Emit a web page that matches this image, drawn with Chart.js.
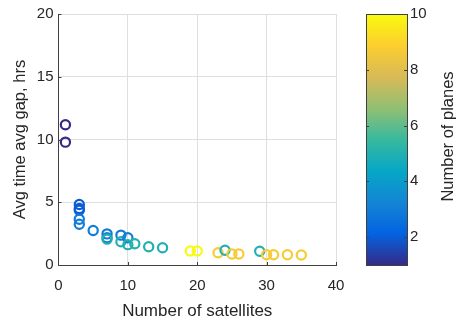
<!DOCTYPE html>
<html><head><meta charset="utf-8">
<script src="https://cdn.jsdelivr.net/npm/chart.js@4"></script>
<style>html,body{margin:0;padding:0;background:#fff;}#wrap{width:458px;height:321px;}</style>
</head><body><div id="wrap"><canvas id="c" width="458" height="321"></canvas></div>
<script>
// ---- data ----
const satellites = [1, 1, 3, 3, 3, 3, 3, 5, 7, 7, 7, 9, 9, 10, 10, 11, 13, 15, 19, 20, 23, 24, 25, 26, 29, 30, 31, 33, 35];
const gapHours   = [11.17, 9.79, 4.82, 4.5, 4.37, 3.65, 3.25, 2.75, 2.48, 2.17, 2.06, 2.38, 1.85, 2.17, 1.62, 1.69, 1.45, 1.37, 1.11, 1.11, 0.98, 1.17, 0.88, 0.88, 1.1, 0.82, 0.82, 0.82, 0.8];
const planes     = [1, 1, 2, 2, 2, 3, 3, 3, 3, 3, 5, 3, 5, 3, 5, 5, 5, 5, 10, 10, 8.7, 5, 8.7, 8.7, 5, 8.7, 8.7, 8.7, 8.7];
const xTicks = [0, 10, 20, 30, 40];
const yTicks = [0, 5, 10, 15, 20];
const cbTicks = [2, 4, 6, 8, 10];
const cbRange = [1, 10];
const xTitle = 'Number of satellites';
const yTitle = 'Avg time avg gap, hrs';
const cbTitle = 'Number of planes';

// parula approximation
const parulaStops = ['#352a87','#0363e1','#1485d4','#06a7c6','#38b99e','#92bf73','#d9ba56','#fcce2e','#f9fb0e'];
function hexToRgb(h){return [parseInt(h.slice(1,3),16),parseInt(h.slice(3,5),16),parseInt(h.slice(5,7),16)];}
function parula(v){
  let t=(v-cbRange[0])/(cbRange[1]-cbRange[0]); t=Math.max(0,Math.min(1,t));
  const n=parulaStops.length-1, f=t*n, i=Math.min(n-1,Math.floor(f)), r=f-i;
  const a=hexToRgb(parulaStops[i]), b=hexToRgb(parulaStops[i+1]);
  return 'rgb('+a.map((x,k)=>Math.round(x+(b[k]-x)*r)).join(',')+')';
}

const FONT = "'Liberation Sans', Arial, sans-serif";
const TXT = '#262626';
const GRID = '#dfdfdf';
const AXIS = '#404040';

const points = satellites.map((x,i)=>({x:x,y:gapHours[i]}));
const colors = planes.map(parula);

const colorbarPlugin = {
  id:'colorbar',
  afterDraw(chart){
    const ctx=chart.ctx, ca=chart.chartArea, cb=chart.scales.cb;
    const x0=ca.right+30, x1=ca.right+71;
    const top=cb.getPixelForValue(cbRange[1]), bot=cb.getPixelForValue(cbRange[0]);
    ctx.save();
    const g=ctx.createLinearGradient(0,bot,0,top);
    parulaStops.forEach((c,i)=>g.addColorStop(i/(parulaStops.length-1),c));
    ctx.fillStyle=g;
    ctx.fillRect(x0,top,x1-x0,bot-top);
    ctx.strokeStyle=AXIS; ctx.lineWidth=1;
    ctx.strokeRect(Math.round(x0)+0.5,Math.round(top)+0.5,Math.round(x1-x0),Math.round(bot-top));
    cbTicks.forEach(v=>{
      const y=Math.round(cb.getPixelForValue(v))+0.5;
      ctx.beginPath();ctx.moveTo(x1,y);ctx.lineTo(x1-3,y);ctx.stroke();
      ctx.beginPath();ctx.moveTo(x0,y);ctx.lineTo(x0+3,y);ctx.stroke();
    });
    // colorbar title
    ctx.fillStyle=TXT; ctx.font="16.5px "+FONT;
    ctx.translate(ca.right+112,(top+bot)/2-3);
    ctx.rotate(-Math.PI/2);
    ctx.textAlign='center'; ctx.textBaseline='middle';
    ctx.fillText(cbTitle,0,0);
    ctx.restore();
    // inward tick marks on main axes
    ctx.save();
    ctx.strokeStyle=AXIS; ctx.lineWidth=1;
    const xs=chart.scales.x, ys=chart.scales.y;
    xTicks.forEach(v=>{const x=Math.round(xs.getPixelForValue(v))+0.5;ctx.beginPath();ctx.moveTo(x,ca.bottom);ctx.lineTo(x,ca.bottom-3);ctx.stroke();});
    yTicks.forEach(v=>{const y=Math.round(ys.getPixelForValue(v))+0.5;ctx.beginPath();ctx.moveTo(ca.left,y);ctx.lineTo(ca.left+3,y);ctx.stroke();});
    ctx.restore();
  }
};

new Chart(document.getElementById('c'),{
  type:'scatter',
  data:{datasets:[{
    data:points,
    pointStyle:'circle',
    pointRadius:4.6,
    pointBorderWidth:2.2,
    pointBackgroundColor:'rgba(0,0,0,0)',
    pointBorderColor:colors,
    showLine:false
  }]},
  options:{
    responsive:false,animation:false,
    layout:{padding:{left:11,top:12,right:0,bottom:1.5}},
    plugins:{legend:{display:false},tooltip:{enabled:false}},
    scales:{
      x:{type:'linear',min:0,max:40,
        afterBuildTicks(s){s.ticks=xTicks.map(v=>({value:v}));},
        ticks:{color:TXT,font:{family:FONT,size:15},padding:12,maxRotation:0},
        grid:{color:GRID,drawTicks:false},
        border:{display:true,color:AXIS},
        title:{display:true,text:xTitle,color:TXT,font:{family:FONT,size:17,lineHeight:1.0},padding:{top:-4.5,bottom:0}}
      },
      y:{type:'linear',min:0,max:20,
        afterBuildTicks(s){s.ticks=yTicks.map(v=>({value:v}));},
        ticks:{color:TXT,font:{family:FONT,size:15},padding:5},
        grid:{color:GRID,drawTicks:false},
        border:{display:true,color:AXIS},
        title:{display:true,text:yTitle,color:TXT,font:{family:FONT,size:16.5},padding:{top:0,bottom:1}}
      },
      cb:{type:'linear',position:'right',min:cbRange[0],max:cbRange[1],
        afterBuildTicks(s){s.ticks=cbTicks.map(v=>({value:v}));},
        afterFit(s){s.width=122;s.paddingTop=0;s.paddingBottom=0;},
        ticks:{color:TXT,font:{family:FONT,size:15},padding:74},
        grid:{display:false,drawTicks:false},
        border:{display:false}
      }
    }
  },
  plugins:[colorbarPlugin]
});
</script></body></html>
